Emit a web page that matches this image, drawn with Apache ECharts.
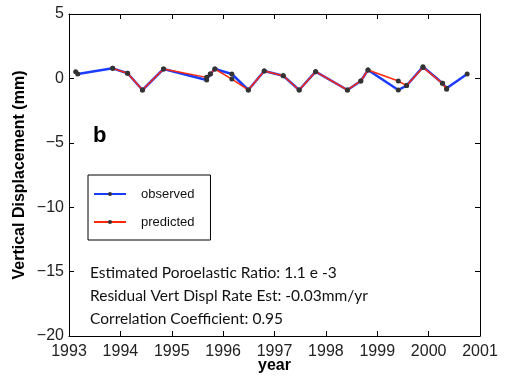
<!DOCTYPE html>
<html><head><meta charset="utf-8">
<script src="https://cdn.jsdelivr.net/npm/echarts@6/dist/echarts.min.js"></script>
<style>html,body{margin:0;padding:0;background:#fff}#c{width:508px;height:377px}</style>
</head><body><div id="c"></div>
<script>
const observedYears = [1993.13,1993.17,1993.85,1994.14,1994.43,1994.84,1995.68,1995.75,1995.84,1996.17,1996.49,1996.80,1997.17,1997.48,1997.80,1998.42,1998.68,1998.82,1999.41,1999.57,1999.89,2000.27,2000.35,2000.75];
const observedValues = [0.52,0.34,0.78,0.40,-0.90,0.73,-0.12,0.34,0.73,0.34,-0.90,0.57,0.21,-0.90,0.52,-0.90,-0.20,0.65,-0.90,-0.56,0.90,-0.38,-0.77,0.34];
const predictedYears = [1993.85,1994.14,1994.43,1994.84,1995.68,1995.75,1995.84,1996.17,1996.49,1996.80,1997.17,1997.48,1997.80,1998.42,1998.68,1998.82,1999.41,1999.57,1999.89,2000.27,2000.35];
const predictedValues = [0.78,0.40,-0.90,0.73,0.08,0.34,0.73,-0.05,-0.90,0.57,0.21,-0.90,0.52,-0.90,-0.20,0.65,-0.20,-0.56,0.85,-0.38,-0.85];
const yearTicks = [1993,1994,1995,1996,1997,1998,1999,2000,2001];
const yTicks = [-20,-15,-10,-5,0,5];
const annotations = ["Estimated Poroelastic Ratio: 1.1 e -3","Residual Vert Displ Rate Est: -0.03mm/yr","Correlation Coefficient: 0.95"];

const pair = (xs, ys) => xs.map((x, i) => [x, ys[i]]);
const axFont = {fontFamily:'Liberation Sans, Arial, sans-serif', fontSize:16, color:'#222'};
const chart = echarts.init(document.getElementById('c'), null, {renderer:'canvas'});
chart.setOption({
  backgroundColor:'#fff',
  animation:false,
  grid:{left:69, right:28, top:14, bottom:41, show:false, containLabel:false, outerBoundsMode:'none'},
  xAxis:[{
    type:'value', min:yearTicks[0], max:yearTicks[yearTicks.length-1], interval:1,
    axisLine:{show:true, onZero:false, lineStyle:{color:'#000', width:1}},
    axisTick:{show:true, inside:true, length:5, lineStyle:{color:'#000'}},
    axisLabel:Object.assign({margin:8, formatter:v=>String(v)}, axFont),
    splitLine:{show:false},
    name:'year', nameLocation:'middle', nameGap:22, nameMoveOverlap:false,
    nameTextStyle:{fontFamily:'Liberation Sans, Arial, sans-serif', fontSize:16, fontWeight:'bold', color:'#000'}
  },{
    type:'value', position:'top', min:yearTicks[0], max:yearTicks[yearTicks.length-1], interval:1,
    axisLine:{show:true, onZero:false, lineStyle:{color:'#000', width:1}},
    axisTick:{show:true, inside:true, length:5, lineStyle:{color:'#000'}},
    axisLabel:{show:false}, splitLine:{show:false}
  }],
  yAxis:[{
    type:'value', min:yTicks[0], max:yTicks[yTicks.length-1], interval:5,
    axisLine:{show:true, onZero:false, lineStyle:{color:'#000', width:1}},
    axisTick:{show:true, inside:true, length:5, lineStyle:{color:'#000'}},
    axisLabel:Object.assign({margin:5, formatter:v=>String(v).replace('-','\u2212')}, axFont),
    splitLine:{show:false},
    name:'Vertical Displacement (mm)', nameLocation:'middle', nameGap:41, nameRotate:90, nameMoveOverlap:false,
    nameTextStyle:{fontFamily:'Liberation Sans, Arial, sans-serif', fontSize:16, fontWeight:'bold', color:'#000'}
  },{
    type:'value', position:'right', min:yTicks[0], max:yTicks[yTicks.length-1], interval:5,
    axisLine:{show:true, onZero:false, lineStyle:{color:'#000', width:1}},
    axisTick:{show:true, inside:true, length:5, lineStyle:{color:'#000'}},
    axisLabel:{show:false}, splitLine:{show:false}
  }],
  legend:{
    orient:'vertical', left:88, top:175, itemWidth:32, itemHeight:5, itemGap:14,
    padding:[12,16,11,5], borderColor:'#000', borderWidth:1, backgroundColor:'#fff',
    textStyle:{fontFamily:'Liberation Sans, Arial, sans-serif', fontSize:13, lineHeight:14, color:'#111', padding:[0,0,0,10]},
    data:['observed','predicted']
  },
  series:[{
    name:'observed', type:'line', data:pair(observedYears, observedValues),
    lineStyle:{color:'#1a3cff', width:2.5}, itemStyle:{color:'#333'},
    symbol:'circle', symbolSize:5, showAllSymbol:true, z:2
  },{
    name:'predicted', type:'line', data:pair(predictedYears, predictedValues),
    lineStyle:{color:'#ff2a0a', width:1.5}, itemStyle:{color:'#333'},
    symbol:'circle', symbolSize:5, showAllSymbol:true, z:3
  }],
  graphic:[
    {type:'text', left:93, top:125, style:{text:'b', font:'bold 22px Liberation Sans, Arial, sans-serif', fill:'#000'}},
    {type:'text', left:90, top:265, style:{text:annotations[0], font:'15.5px Lato, sans-serif', fill:'#111'}},
    {type:'text', left:90, top:288, style:{text:annotations[1], font:'15.5px Lato, sans-serif', fill:'#111'}},
    {type:'text', left:90, top:311, style:{text:annotations[2], font:'15.5px Lato, sans-serif', fill:'#111'}}
  ]
});
</script></body></html>
